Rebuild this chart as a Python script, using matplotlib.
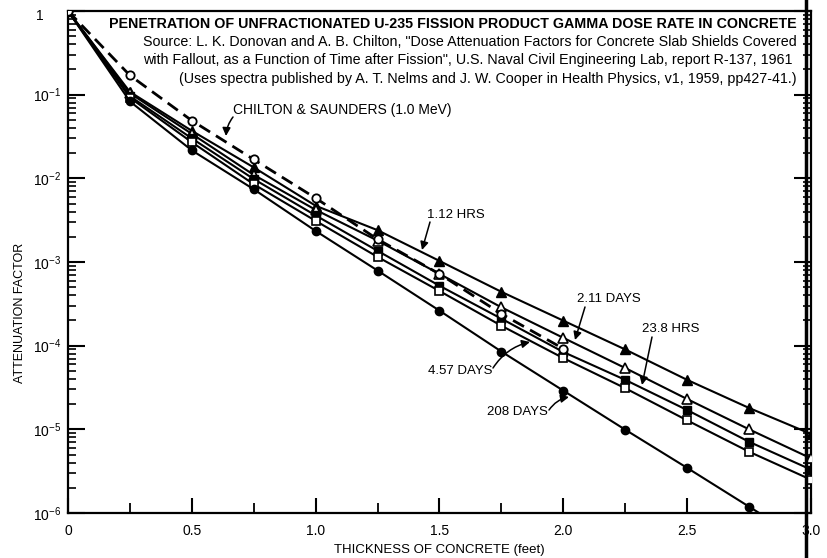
import matplotlib
matplotlib.use('Agg')
import matplotlib.pyplot as plt
import numpy as np
from matplotlib.ticker import FixedLocator, LogLocator, NullFormatter
from matplotlib.lines import Line2D
from matplotlib.transforms import ScaledTranslation

plt.rcParams['font.family'] = ['Liberation Sans', 'DejaVu Sans']
plt.rcParams['mathtext.default'] = 'regular'

# thickness of concrete (feet)
x = [0, 0.25, 0.5, 0.75, 1.0, 1.25, 1.5, 1.75, 2.0, 2.25, 2.5, 2.75, 3.0]
x_chilton = x[:9]

chilton = [1, 0.170, 0.049, 0.0168, 0.0058, 0.00187, 0.00072, 0.00024, 9.2e-5]
hrs_1_12 = [1, 0.108, 0.037, 0.0135, 0.0047, 0.0024, 0.00103, 0.00044, 0.000199,
            9.0e-5, 3.9e-5, 1.8e-5, 8.8e-6]
days_2_11 = [1, 0.104, 0.034, 0.011, 0.0042, 0.0018, 0.00072, 0.000287, 0.000124,
             5.4e-5, 2.3e-5, 1.0e-5, 4.5e-6]
hrs_23_8 = [1, 0.096, 0.030, 0.0098, 0.0036, 0.00136, 0.00052, 0.00021, 8.4e-5,
            3.9e-5, 1.7e-5, 7.1e-6, 3.3e-6]
days_4_57 = [1, 0.092, 0.027, 0.0085, 0.0031, 0.00115, 0.00045, 0.000173, 7.1e-5,
             3.1e-5, 1.28e-5, 5.4e-6, 2.5e-6]
days_208 = [1, 0.083, 0.0216, 0.0074, 0.00235, 0.00079, 0.000262, 8.5e-5, 2.9e-5,
            9.9e-6, 3.46e-6, 1.19e-6, 4.1e-7]

xticks = [0, 0.5, 1.0, 1.5, 2.0, 2.5, 3.0]
xticklabels = ['0', '0.5', '1.0', '1.5', '2.0', '2.5', '3.0']
yticks = [1e-6, 1e-5, 1e-4, 1e-3, 1e-2, 1e-1, 1]
yticklabels = ['$10^{-6}$', '$10^{-5}$', '$10^{-4}$', '$10^{-3}$', '$10^{-2}$', '$10^{-1}$', '1']

title_lines = [
    'PENETRATION OF UNFRACTIONATED U-235 FISSION PRODUCT GAMMA DOSE RATE IN CONCRETE',
    'Source: L. K. Donovan and A. B. Chilton, "Dose Attenuation Factors for Concrete Slab Shields Covered',
    'with Fallout, as a Function of Time after Fission", U.S. Naval Civil Engineering Lab, report R-137, 1961',
    '(Uses spectra published by A. T. Nelms and J. W. Cooper in Health Physics, v1, 1959, pp427-41.)',
]

W, H = 827, 558
fig = plt.figure(figsize=(W / 100, H / 100), dpi=100)
ax = fig.add_axes([68 / W, 1 - 513 / H, (811 - 68) / W, (513 - 11) / H])

k = 'black'
lw = 1.5
ax.plot(x_chilton, chilton, color=k, lw=2.0, ls=(0, (4.5, 2.5)), marker='o', ms=6,
        mfc='white', mec=k, mew=1.3, zorder=4)
ax.plot(x, hrs_1_12, color=k, lw=lw, marker='^', ms=7.5, mfc=k, mec=k, zorder=3)
ax.plot(x, days_2_11, color=k, lw=lw, marker='^', ms=7.5, mfc='white', mec=k, mew=1.2, zorder=3)
ax.plot(x, hrs_23_8, color=k, lw=lw, marker='s', ms=6, mfc=k, mec=k, zorder=3)
ax.plot(x, days_4_57, color=k, lw=lw, marker='s', ms=6, mfc='white', mec=k, mew=1.2, zorder=3)
ax.plot(x, days_208, color=k, lw=lw, marker='o', ms=6, mfc=k, mec=k, zorder=3)

ax.set_yscale('log')
ax.set_xlim(0, 3.0)
ax.set_ylim(1e-6, 1)

ax.xaxis.set_major_locator(FixedLocator(xticks))
ax.set_xticklabels(xticklabels)
ax.xaxis.set_minor_locator(FixedLocator([0.25, 0.75, 1.25, 1.75, 2.25, 2.75]))
ax.yaxis.set_major_locator(FixedLocator(yticks))
ax.set_yticklabels(yticklabels)
ax.yaxis.set_minor_locator(LogLocator(base=10, subs=np.arange(2, 10), numticks=20))
ax.yaxis.set_minor_formatter(NullFormatter())

ax.tick_params(which='both', direction='in', right=True, top=False, labelsize=10, color=k)
ax.tick_params(axis='x', which='major', length=11, width=1.5, pad=8)
ax.tick_params(axis='x', which='minor', length=7, width=1.3)
ax.tick_params(axis='y', which='major', length=12, width=1.5, pad=5)
ax.tick_params(axis='y', which='minor', length=6, width=1.2)

for s in ax.spines.values():
    s.set_linewidth(1.6)

# the "1" label sits further left than the powers of ten
for lbl in ax.get_yticklabels():
    if lbl.get_text() == '1':
        lbl.set_transform(lbl.get_transform() + ScaledTranslation(-17 / 100, -0.03, fig.dpi_scale_trans))

ax.set_xlabel('THICKNESS OF CONCRETE (feet)', fontsize=9.5, labelpad=4)
fig.text(20 / W, 1 - 313 / H, 'ATTENUATION FACTOR', rotation=90, fontsize=9,
         ha='center', va='center')

# header text
tx = 797 / W
fig.text(tx, 1 - 24 / H, title_lines[0], fontsize=10.3, fontweight='bold', ha='right', va='center')
fig.text(tx, 1 - 42 / H, title_lines[1], fontsize=10.3, ha='right', va='center')
fig.text(793 / W, 1 - 60 / H, title_lines[2], fontsize=10.3, ha='right', va='center')
fig.text(tx, 1 - 79 / H, title_lines[3], fontsize=10.3, ha='right', va='center')

# callouts (positions in pixels)
def px(xp, yp):
    return (xp / W, 1 - yp / H)

arrow = dict(arrowstyle='-|>', color=k, lw=1.1, mutation_scale=12, shrinkA=0, shrinkB=0)
callouts = [
    ('CHILTON & SAUNDERS (1.0 MeV)', (233, 110), (233, 117), (226, 136), 'left', 0.15, 10),
    ('1.12 HRS', (427, 215), (430, 222), (422, 250), 'left', 0.0, 9.5),
    ('2.11 DAYS', (577, 299), (585, 307), (575, 340), 'left', 0.0, 9.5),
    ('23.8 HRS', (642, 329), (652, 337), (642, 385), 'left', 0.0, 9.5),
    ('4.57 DAYS', (492, 371), (493, 368), (530, 342), 'right', -0.2, 9.5),
    ('208 DAYS', (548, 412), (549, 410), (569, 397), 'right', -0.2, 9.5),
]
for label, tpos, apos, tip, ha, rad, fs in callouts:
    fig.text(*px(*tpos), label, fontsize=fs, ha=ha, va='center')
    ap = dict(arrow, connectionstyle='arc3,rad=%s' % rad)
    ax.annotate('', xy=px(*tip), xycoords='figure fraction', xytext=px(*apos),
                textcoords='figure fraction', arrowprops=ap)

# page edge line running down the right side of the scan
fig.add_artist(Line2D([806 / W, 806 / W], [0, 1], transform=fig.transFigure, color=k, lw=2.5))

fig.savefig('out.png', dpi=100)
